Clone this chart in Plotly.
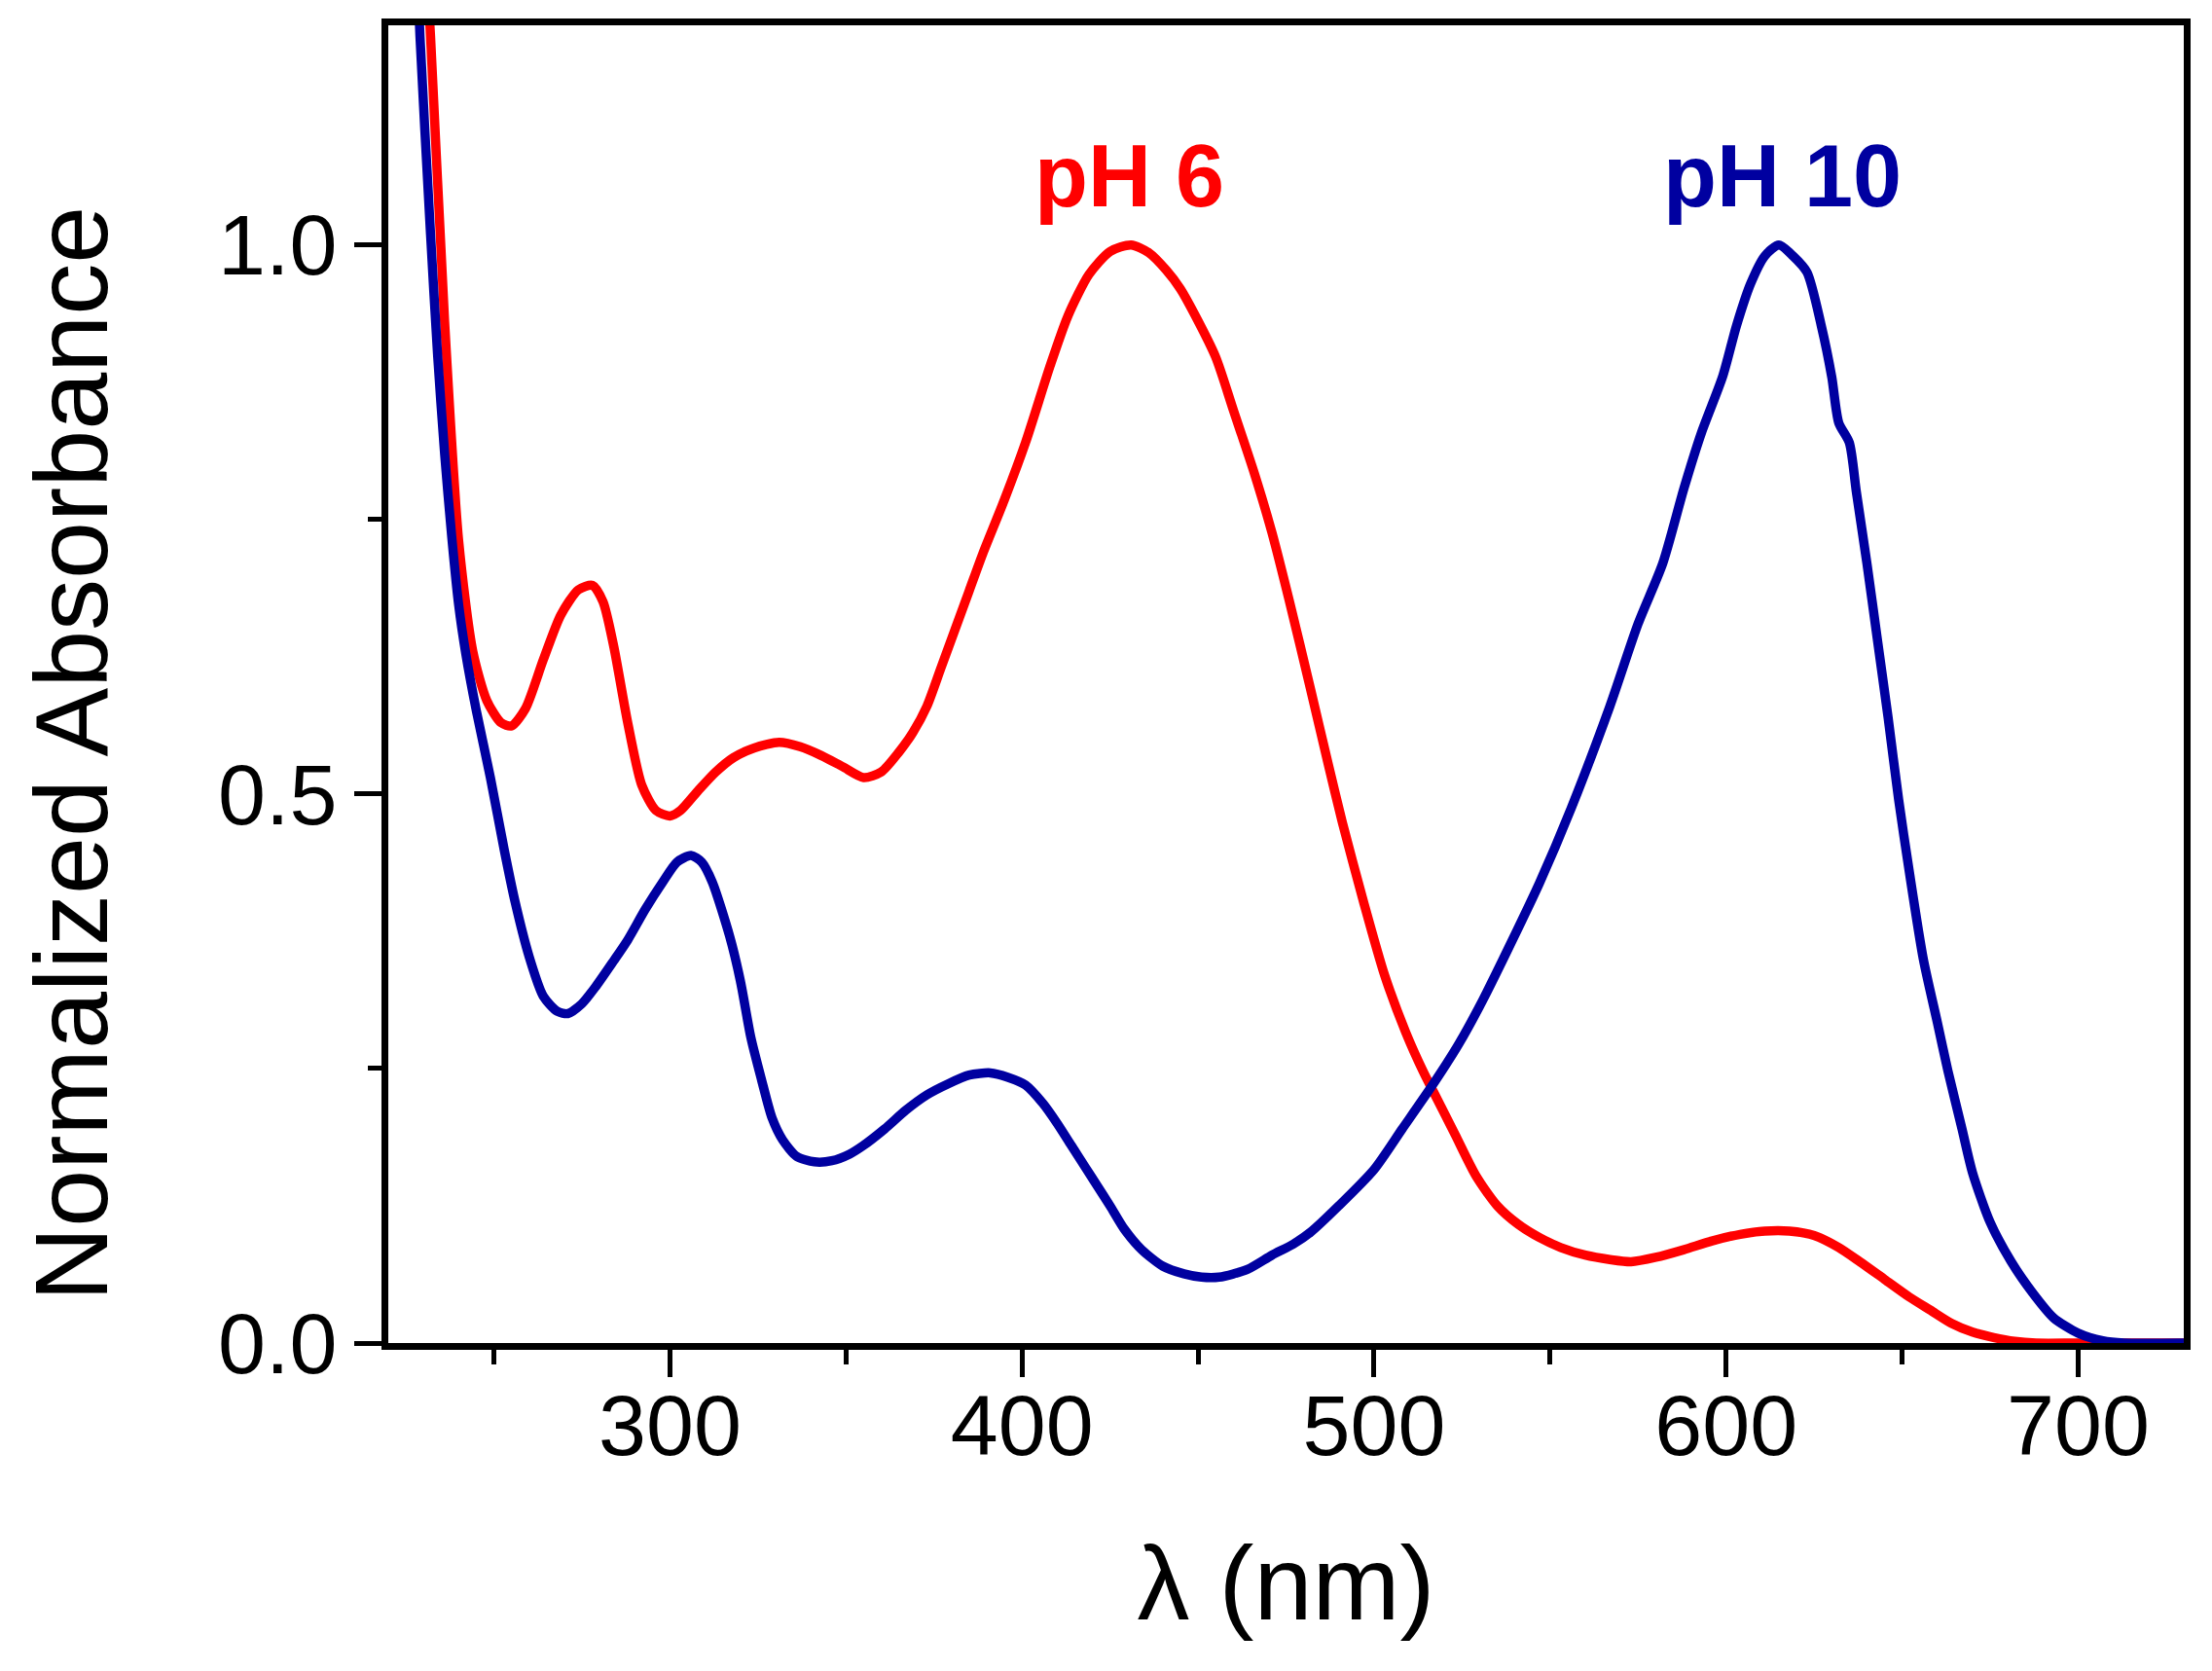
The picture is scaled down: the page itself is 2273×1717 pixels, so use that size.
import plotly.graph_objects as go

# pH 6 spectrum (red)
wl_ph6 = [229, 232, 236, 240, 244, 248, 252, 255, 259, 264, 269, 274, 278, 281, 284, 288,
          292, 296, 300, 303, 308, 313, 318, 324, 331, 337, 343, 349, 355, 360, 365, 369,
          373, 377, 381, 385, 389, 395, 401, 408, 413, 419, 425, 431, 436, 441, 445, 449,
          455, 460, 466, 471, 476, 482, 487, 491, 497, 503, 509, 514, 517, 523, 529, 535,
          541, 547, 553, 560, 567, 573, 580, 588, 596, 604, 611, 618, 625, 632, 638, 645,
          652, 658, 664, 670, 676, 682, 688, 700, 730]
abs_ph6 = [1.36, 1.19, 0.93, 0.73, 0.63, 0.585, 0.565, 0.562, 0.578, 0.622, 0.663, 0.686, 0.69,
           0.675, 0.635, 0.565, 0.508, 0.485, 0.48, 0.485, 0.503, 0.52, 0.533, 0.542, 0.547,
           0.543, 0.535, 0.525, 0.515, 0.52, 0.538, 0.556, 0.58, 0.615, 0.65, 0.685, 0.72,
           0.768, 0.82, 0.89, 0.935, 0.973, 0.994, 1.0, 0.993, 0.977, 0.96, 0.937, 0.898, 0.85,
           0.792, 0.738, 0.675, 0.595, 0.527, 0.474, 0.402, 0.335, 0.283, 0.247, 0.228, 0.19,
           0.152, 0.125, 0.108, 0.096, 0.087, 0.08, 0.076, 0.074, 0.078, 0.085, 0.093, 0.099,
           0.102, 0.102, 0.098, 0.087, 0.074, 0.058, 0.042, 0.03, 0.018, 0.01, 0.005, 0.0015,
           0.0, 0.0, 0.0]

# pH 10 spectrum (dark blue)
wl_ph10 = [226, 229, 232, 234, 236, 238, 240, 242, 245, 249, 253, 256, 260, 264, 268, 271,
           275, 279, 284, 288, 293, 298, 302, 306, 309, 312, 317, 320, 323, 326, 329, 332,
           336, 341, 346, 351, 355, 361, 367, 373, 379, 385, 391, 396, 401, 406, 410, 414,
           418, 421, 425, 429, 434, 440, 446, 451, 456, 464, 471, 477, 482, 490, 500, 508,
           516, 524, 531, 539, 547, 556, 567, 575, 582, 588, 593, 599, 603, 607, 611, 615,
           619, 623, 627, 630, 632, 635, 637, 640, 643, 646, 649, 652, 656, 660, 663, 667,
           670, 675, 681, 687, 693, 700, 707, 713, 730]
abs_ph10 = [1.42, 1.19, 1.01, 0.9, 0.81, 0.735, 0.672, 0.628, 0.576, 0.515, 0.448, 0.402, 0.352,
            0.316, 0.302, 0.3, 0.309, 0.325, 0.348, 0.367, 0.395, 0.42, 0.438, 0.444, 0.438,
            0.42, 0.37, 0.33, 0.278, 0.24, 0.205, 0.185, 0.17, 0.165, 0.166, 0.172, 0.18,
            0.195, 0.212, 0.226, 0.236, 0.244, 0.246, 0.242, 0.235, 0.218, 0.2, 0.18, 0.16,
            0.145, 0.125, 0.104, 0.085, 0.07, 0.063, 0.06, 0.06, 0.067, 0.08, 0.09, 0.101,
            0.125, 0.158, 0.195, 0.232, 0.272, 0.313, 0.365, 0.419, 0.487, 0.58, 0.655, 0.71,
            0.778, 0.829, 0.88, 0.927, 0.965, 0.99, 1.0, 0.99, 0.975, 0.927, 0.88, 0.838, 0.82,
            0.775, 0.71, 0.64, 0.57, 0.495, 0.43, 0.35, 0.292, 0.248, 0.195, 0.155, 0.11, 0.074,
            0.046, 0.023, 0.009, 0.002, 0.0, 0.0]

series_labels = ["pH 6", "pH 10"]
label_x = [430.5, 616]
label_y = [1.063, 1.063]
series_colors = ["#FF0000", "#0000A0"]

y_title = "Normalized Absorbance"
x_title = "λ (nm)"

FONT = "Liberation Sans, Arial, sans-serif"

fig = go.Figure()
fig.add_trace(go.Scatter(x=wl_ph6, y=abs_ph6, mode="lines", name=series_labels[0],
                         line=dict(color=series_colors[0], width=9.5, shape="spline", smoothing=0.7)))
fig.add_trace(go.Scatter(x=wl_ph10, y=abs_ph10, mode="lines", name=series_labels[1],
                         line=dict(color=series_colors[1], width=9.5, shape="spline", smoothing=0.7)))

for lab, lx, ly, col in zip(series_labels, label_x, label_y, series_colors):
    fig.add_annotation(x=lx, y=ly, text=f"<b>{lab}</b>", showarrow=False,
                       font=dict(family=FONT, size=90, color=col), xanchor="center", yanchor="middle")

# y title sits a little below the middle of the axis in the original, so place it by hand
fig.add_annotation(xref="paper", x=0, yref="y", y=0.536, text=y_title, textangle=-90,
                   showarrow=False, xanchor="center", yanchor="middle", xshift=-326,
                   font=dict(family=FONT, size=106, color="black"))

axis_common = dict(showline=True, linecolor="black", linewidth=7, mirror=True,
                   showgrid=False, zeroline=False, ticks="outside", tickcolor="black",
                   tickwidth=5, tickfont=dict(family=FONT, size=88, color="black"))

fig.update_xaxes(range=[220, 730], tick0=0, dtick=100, ticklen=28, ticklabelstandoff=-26,
                 minor=dict(dtick=50, ticks="outside", ticklen=15, tickwidth=5, tickcolor="black"),
                 title=dict(text=x_title, font=dict(family=FONT, size=108, color="black"), standoff=78),
                 **axis_common)
fig.update_yaxes(range=[0, 1.2], tick0=0, dtick=0.5, tickformat=".1f", ticklen=28,
                 minor=dict(dtick=0.25, ticks="outside", ticklen=14, tickwidth=5, tickcolor="black"),
                 **axis_common)

fig.update_layout(width=2273, height=1717, showlegend=False,
                  paper_bgcolor="white", plot_bgcolor="white",
                  margin=dict(l=391, r=37, t=18, b=345))

fig.write_html("out.html")
